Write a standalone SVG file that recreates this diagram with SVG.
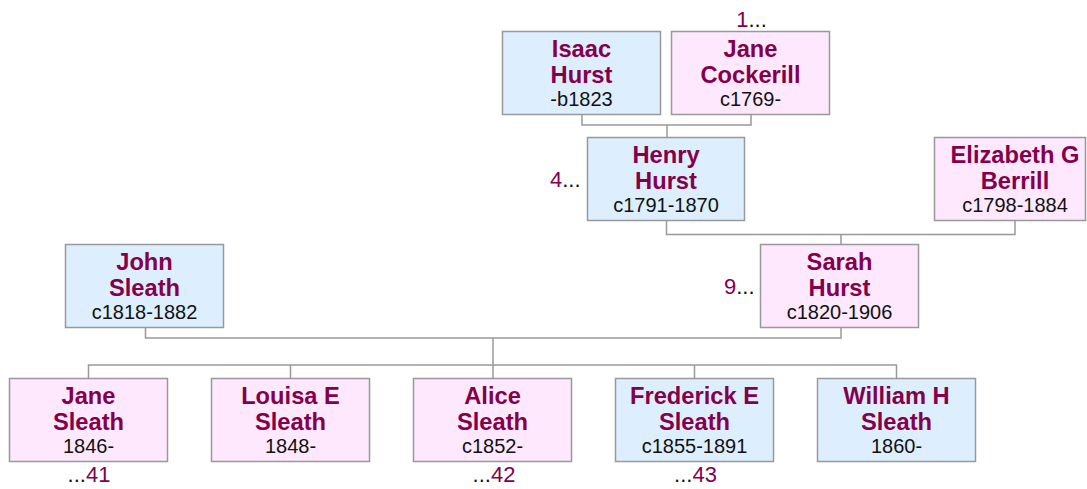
<svg xmlns="http://www.w3.org/2000/svg" width="1087" height="489" viewBox="0 0 1087 489">
<style>
.m{fill:#ddeeff;stroke:#999;stroke-width:1.5}
.f{fill:#fde8fd;stroke:#999;stroke-width:1.5}
.n{font-family:"Liberation Sans",Arial,sans-serif;font-weight:bold;font-size:23.7px;fill:#84004a;text-anchor:middle}
.d{font-family:"Liberation Sans",Arial,sans-serif;font-size:20px;fill:#111;text-anchor:middle}
.r{font-family:"Liberation Sans",Arial,sans-serif;font-size:22px;fill:#111}
.r tspan.k{fill:#84004a}
.c{fill:none;stroke:#999;stroke-width:1.5}
</style>
<rect width="1087" height="489" fill="#fff"/>
<g id="connectors">
<path class="c" d="M582,114.5 V125 H751 V114.5 M667,125 V137.5"/>
<path class="c" d="M666.5,220.5 V234.5 H1015 V220.5 M841,234.5 V244.5"/>
<path class="c" d="M145.5,327.5 V338 H841 V327.5 M493,338 V378.5"/>
<path class="c" d="M88.5,378.5 V365 H896.5 V378.5 M290.5,365 V378.5 M694.5,365 V378.5"/>
</g>
<g id="isaac"><rect class="m" x="502.5" y="31.5" width="158" height="83"/><text class="n" x="581.5" y="56.5">Isaac</text><text class="n" x="581.5" y="82.5">Hurst</text><text class="d" x="581.5" y="105.5">-b1823</text></g>
<g id="janecockerill"><rect class="f" x="671.5" y="31.5" width="158" height="83"/><text class="n" x="750.5" y="56.5">Jane</text><text class="n" x="750.5" y="82.5">Cockerill</text><text class="d" x="750.5" y="105.5">c1769-</text></g>
<text id="ref1" class="r" x="751.5" y="27" text-anchor="middle"><tspan class="k">1</tspan>...</text>
<g id="henry"><rect class="m" x="587.5" y="137.5" width="157" height="83"/><text class="n" x="666" y="162.5">Henry</text><text class="n" x="666" y="188.5">Hurst</text><text class="d" x="666" y="211.5">c1791-1870</text></g>
<text id="ref4" class="r" x="580.5" y="187" text-anchor="end"><tspan class="k">4</tspan>...</text>
<g id="elizabeth"><rect class="f" x="934.5" y="137.5" width="151" height="83"/><text class="n" x="1015" y="162.5">Elizabeth G</text><text class="n" x="1015" y="188.5">Berrill</text><text class="d" x="1015" y="211.5">c1798-1884</text></g>
<g id="john"><rect class="m" x="65.5" y="244.5" width="158" height="83"/><text class="n" x="144.5" y="269.5">John</text><text class="n" x="144.5" y="295.5">Sleath</text><text class="d" x="144.5" y="318.5">c1818-1882</text></g>
<g id="sarah"><rect class="f" x="760.5" y="244.5" width="158" height="83"/><text class="n" x="839.5" y="269.5">Sarah</text><text class="n" x="839.5" y="295.5">Hurst</text><text class="d" x="839.5" y="318.5">c1820-1906</text></g>
<text id="ref9" class="r" x="754.5" y="293.5" text-anchor="end"><tspan class="k">9</tspan>...</text>
<g id="janesleath"><rect class="f" x="9.5" y="378.5" width="158" height="83"/><text class="n" x="88.5" y="403.5">Jane</text><text class="n" x="88.5" y="429.5">Sleath</text><text class="d" x="88.5" y="452.5">1846-</text></g>
<text id="ref41" class="r" x="89" y="482" text-anchor="middle">...<tspan class="k">41</tspan></text>
<g id="louisa"><rect class="f" x="211.5" y="378.5" width="158" height="83"/><text class="n" x="290.5" y="403.5">Louisa E</text><text class="n" x="290.5" y="429.5">Sleath</text><text class="d" x="290.5" y="452.5">1848-</text></g>
<g id="alice"><rect class="f" x="413.5" y="378.5" width="158" height="83"/><text class="n" x="492.5" y="403.5">Alice</text><text class="n" x="492.5" y="429.5">Sleath</text><text class="d" x="492.5" y="452.5">c1852-</text></g>
<text id="ref42" class="r" x="494" y="482" text-anchor="middle">...<tspan class="k">42</tspan></text>
<g id="frederick"><rect class="m" x="615.5" y="378.5" width="158" height="83"/><text class="n" x="694.5" y="403.5">Frederick E</text><text class="n" x="694.5" y="429.5">Sleath</text><text class="d" x="694.5" y="452.5">c1855-1891</text></g>
<text id="ref43" class="r" x="695.5" y="482" text-anchor="middle">...<tspan class="k">43</tspan></text>
<g id="william"><rect class="m" x="817.5" y="378.5" width="158" height="83"/><text class="n" x="896.5" y="403.5">William H</text><text class="n" x="896.5" y="429.5">Sleath</text><text class="d" x="896.5" y="452.5">1860-</text></g>
</svg>
